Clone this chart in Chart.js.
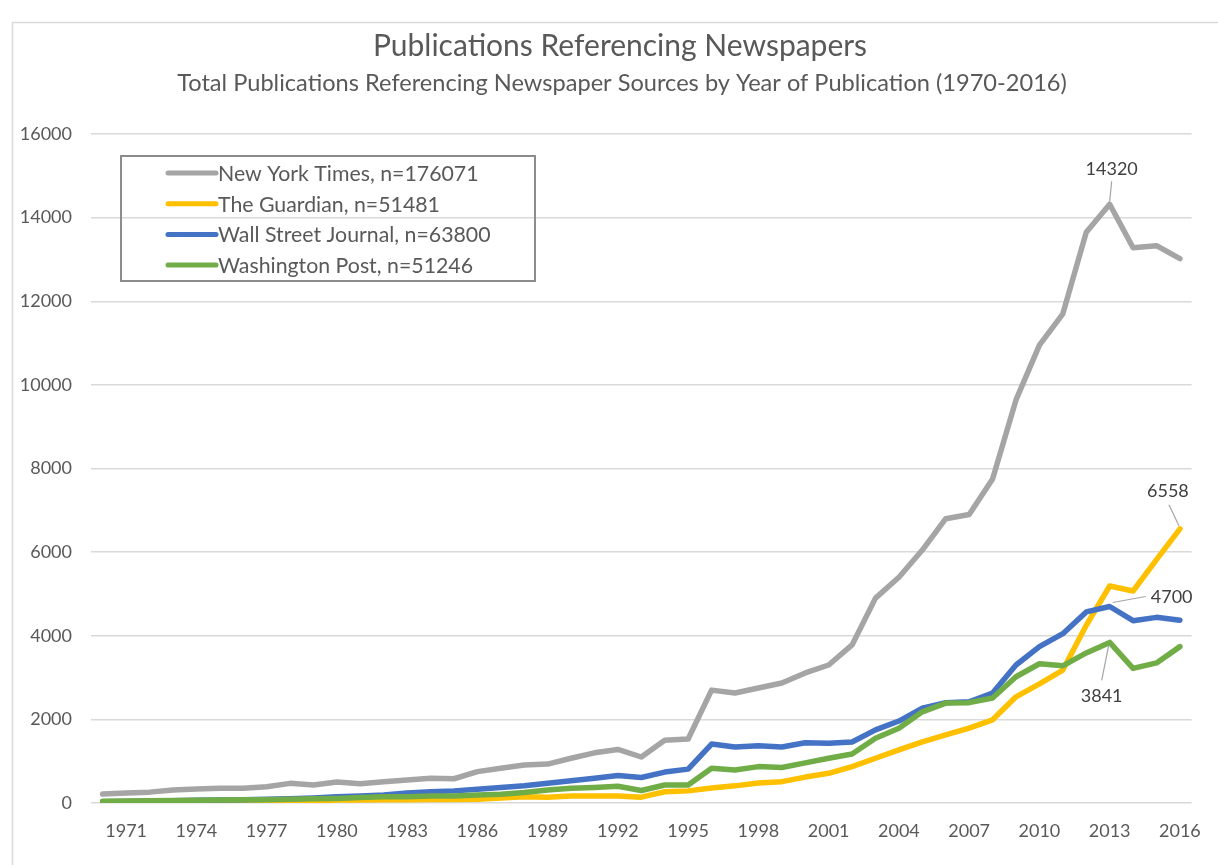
<!DOCTYPE html>
<html>
<head>
<meta charset="utf-8">
<script src="https://cdn.jsdelivr.net/npm/chart.js@4/dist/chart.umd.min.js"></script>
<style>
  html, body { margin: 0; padding: 0; background: #ffffff; }
  #wrap { position: relative; width: 1218px; height: 865px; }
</style>
</head>
<body>
<div id="wrap"><canvas id="c" width="1218" height="865"></canvas></div>
<script>
const years = [];
for (let y = 1970; y <= 2016; y++) years.push(String(y));

const nytValues = [215, 240, 260, 310, 335, 350, 350, 390, 470, 430,
  500, 460, 510, 550, 590, 580, 750, 830, 910, 930,
  1070, 1200, 1280, 1100, 1500, 1530, 2700, 2630, 2750, 2870,
  3110, 3300, 3780, 4900, 5400, 6050, 6800, 6900, 7750, 9640,
  10950, 11700, 13650, 14320, 13280, 13330, 13020];

const guardianValues = [10, 15, 20, 25, 30, 30, 35, 40, 50, 55,
  70, 70, 75, 80, 85, 85, 90, 120, 150, 140,
  170, 170, 170, 140, 270, 290, 360, 410, 480, 510,
  620, 710, 870, 1070, 1270, 1460, 1630, 1790, 1990, 2540,
  2850, 3180, 4250, 5190, 5070, 5820, 6558];

const wsjValues = [30, 35, 45, 55, 65, 70, 75, 90, 100, 120,
  150, 170, 190, 240, 270, 290, 330, 370, 410, 470,
  530, 590, 660, 610, 740, 810, 1410, 1340, 1370, 1340,
  1440, 1430, 1460, 1750, 1960, 2270, 2400, 2420, 2630, 3300,
  3740, 4050, 4570, 4700, 4360, 4440, 4370];

const wapoValues = [40, 45, 55, 60, 65, 70, 75, 80, 90, 100,
  110, 130, 150, 150, 170, 170, 190, 210, 250, 310,
  350, 370, 400, 300, 430, 430, 830, 790, 870, 850,
  960, 1070, 1170, 1550, 1790, 2180, 2390, 2400, 2510, 3020,
  3330, 3280, 3590, 3841, 3220, 3350, 3740];

const seriesLabels = ["New York Times, n=176071", "The Guardian, n=51481",
  "Wall Street Journal, n=63800", "Washington Post, n=51246"];
const seriesColors = ["#A5A5A5", "#FFC000", "#4472C4", "#70AD47"];

const titleText = "Publications Referencing Newspapers";
const subtitleText = "Total Publications Referencing Newspaper Sources by Year of Publication (1970-2016)";

// annotated points: [datasetIndex, year]
const annotations = [
  { ds: 0, year: "2013", pos: "above" },
  { ds: 1, year: "2016", pos: "upleft" },
  { ds: 2, year: "2013", pos: "right" },
  { ds: 3, year: "2013", pos: "below" }
];

const FONT = "Lato, 'Open Sans', sans-serif";
const TEXT = "#595959";

const frame = {
  id: "frame",
  beforeDraw(chart) {
    const ctx = chart.ctx;
    ctx.save();
    ctx.fillStyle = "#ffffff";
    ctx.fillRect(0, 0, chart.width, chart.height);
    ctx.strokeStyle = "#D9D9D9";
    ctx.lineWidth = 1.5;
    ctx.strokeRect(12.5, 22.5, 1230, 900);
    // titles
    ctx.fillStyle = TEXT;
    ctx.textAlign = "center";
    ctx.textBaseline = "middle";
    ctx.font = "30px " + FONT;
    ctx.fillText(titleText, 620, 46);
    ctx.font = "23.6px " + FONT;
    ctx.fillText(subtitleText, 622, 83);
    ctx.restore();
  }
};

const customLegend = {
  id: "customLegend",
  afterDraw(chart) {
    const ctx = chart.ctx;
    ctx.save();
    const x0 = 121, y0 = 156, w = 414, h = 125;
    ctx.strokeStyle = "#8C8C8C";
    ctx.lineWidth = 2;
    ctx.strokeRect(x0, y0, w, h);
    ctx.font = "21.3px " + FONT;
    ctx.textBaseline = "middle";
    ctx.textAlign = "left";
    chart.data.datasets.forEach((ds, i) => {
      const cy = 173 + i * 30.7;
      ctx.strokeStyle = ds.borderColor;
      ctx.lineWidth = 5;
      ctx.lineCap = "round";
      ctx.beginPath();
      ctx.moveTo(168, cy);
      ctx.lineTo(216, cy);
      ctx.stroke();
      ctx.fillStyle = TEXT;
      ctx.fillText(ds.label, 218, cy + 1);
    });
    ctx.restore();
  }
};

const pointLabels = {
  id: "pointLabels",
  afterDatasetsDraw(chart) {
    const ctx = chart.ctx;
    ctx.save();
    ctx.font = "18px " + FONT;
    ctx.textBaseline = "middle";
    ctx.textAlign = "center";
    annotations.forEach(a => {
      const idx = chart.data.labels.indexOf(a.year);
      const pt = chart.getDatasetMeta(a.ds).data[idx];
      const val = chart.data.datasets[a.ds].data[idx];
      let lx, ly, l1, l2;
      if (a.pos === "above") {
        lx = pt.x + 2; ly = pt.y - 35;
        l1 = [pt.x, pt.y - 3]; l2 = [pt.x + 2, pt.y - 23];
      } else if (a.pos === "upleft") {
        lx = pt.x - 12; ly = pt.y - 38;
        l1 = [pt.x - 1, pt.y - 3]; l2 = [pt.x - 11, pt.y - 24];
      } else if (a.pos === "right") {
        lx = pt.x + 62; ly = pt.y - 9;
        l1 = [pt.x + 3, pt.y - 4]; l2 = [pt.x + 36, pt.y - 10];
      } else {
        lx = pt.x - 8; ly = pt.y + 54;
        l1 = [pt.x - 1, pt.y + 3]; l2 = [pt.x - 8, pt.y + 38];
      }
      ctx.strokeStyle = "#A5A5A5";
      ctx.lineWidth = 1.2;
      ctx.beginPath();
      ctx.moveTo(l1[0], l1[1]);
      ctx.lineTo(l2[0], l2[1]);
      ctx.stroke();
      ctx.fillStyle = "#404040";
      ctx.fillText(String(val), lx, ly);
    });
    ctx.restore();
  }
};

const valueSets = [nytValues, guardianValues, wsjValues, wapoValues];
const datasets = valueSets.map((vals, i) => ({
  label: seriesLabels[i],
  data: vals,
  borderColor: seriesColors[i],
  backgroundColor: seriesColors[i],
  borderWidth: 5.5,
  pointRadius: 0,
  tension: 0,
  borderCapStyle: "round",
  borderJoinStyle: "round",
  order: 4 - i
}));

new Chart(document.getElementById("c"), {
  type: "line",
  data: { labels: years, datasets },
  plugins: [frame, customLegend, pointLabels],
  options: {
    responsive: false,
    animation: false,
    devicePixelRatio: 1,
    layout: { padding: { left: 0, right: 18, top: 134, bottom: 0 } },
    plugins: {
      legend: { display: false },
      tooltip: { enabled: false },
      title: { display: false },
      subtitle: { display: false }
    },
    scales: {
      x: {
        offset: true,
        grid: { display: false, drawTicks: false },
        border: { display: false },
        ticks: {
          autoSkip: false,
          maxRotation: 0,
          color: TEXT,
          font: { family: FONT, size: 18 },
          padding: 17,
          callback: function (v, i) { return (i % 3 === 1) ? this.getLabelForValue(v) : ""; }
        },
        afterFit(s) { s.height = 62; }
      },
      y: {
        min: 0,
        max: 16000,
        grid: { color: "#D9D9D9", lineWidth: 1.5, drawTicks: false },
        border: { display: false },
        ticks: {
          stepSize: 2000,
          color: TEXT,
          font: { family: FONT, size: 18 },
          padding: 19,
          callback: (v) => String(v)
        },
        afterFit(s) { s.width = 91; }
      }
    }
  }
});
</script>
</body>
</html>
